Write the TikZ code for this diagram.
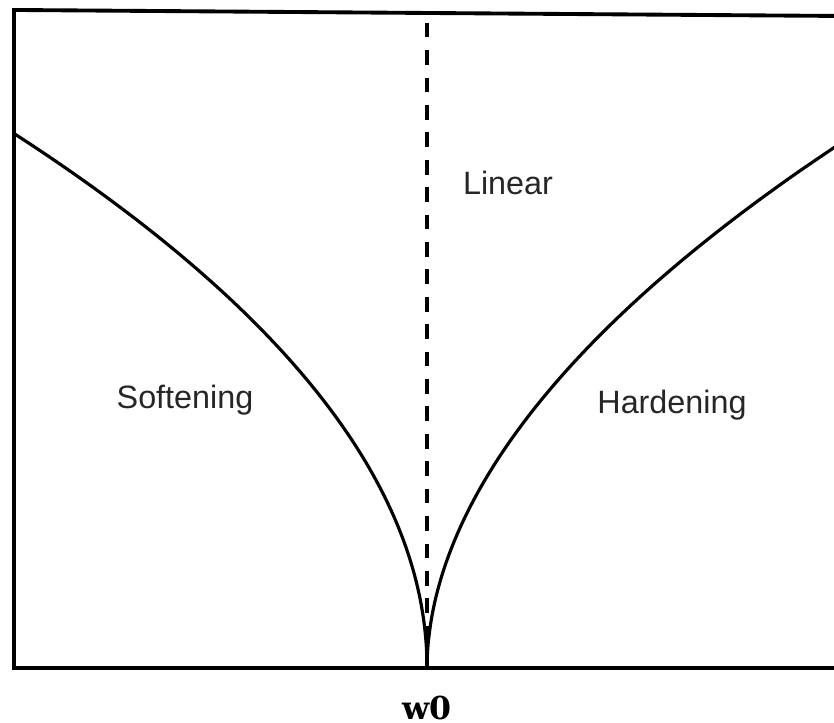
\documentclass[tikz,border=0pt]{standalone}
\usepackage{fontspec}
\setmainfont{Liberation Sans}
\newfontfamily\labelserif{DejaVu Serif}
\usetikzlibrary{positioning}

\begin{document}
\begin{tikzpicture}[x=1cm,y=1cm,
    frameline/.style={line width=1.1pt},
    curveline/.style={line width=0.9pt,smooth,samples=120,variable=\t},
    linearline/.style={line width=1pt,dash pattern=on 4.2pt off 3.6pt},
    region/.style={font=\fontsize{9.2}{11}\selectfont,text=black!85}]
  \useasboundingbox (0,0) rectangle (8.34,7.23);
  \clip (0,0) rectangle (8.34,7.23);
  % frame, open on the right
  \coordinate (tl) at (0.14,7.13);
  \coordinate (tr) at (8.40,7.07);
  \coordinate (bl) at (0.14,0.55);
  \coordinate (br) at (8.40,0.55);
  \coordinate (w0) at (4.27,0.55);
  \coordinate (top) at (4.27,7.11);
  \draw[frameline] (tr) -- (tl) -- (bl) -- (br);
  % linear line
  \draw[linearline] (w0) -- (top);
  % softening
  \draw[curveline] plot[domain=0:5.345] ({4.27-(\t/2.63)^2},{0.55+\t});
  % hardening
  \draw[curveline] plot[domain=0:5.45] ({4.27+(\t/2.5)^1.915},{0.55+\t});
  \node[region] (linear) at (5.08,5.40) {Linear};
  \node[region] (soft) at (1.85,3.23) {Softening};
  \node[region] (hard) at (6.72,3.18) {Hardening};
  \node[font=\labelserif\bfseries\fontsize{9}{11}\selectfont,inner sep=0pt,
    below=0.27cm of w0] (w0lbl) {w0};
\end{tikzpicture}
\end{document}
